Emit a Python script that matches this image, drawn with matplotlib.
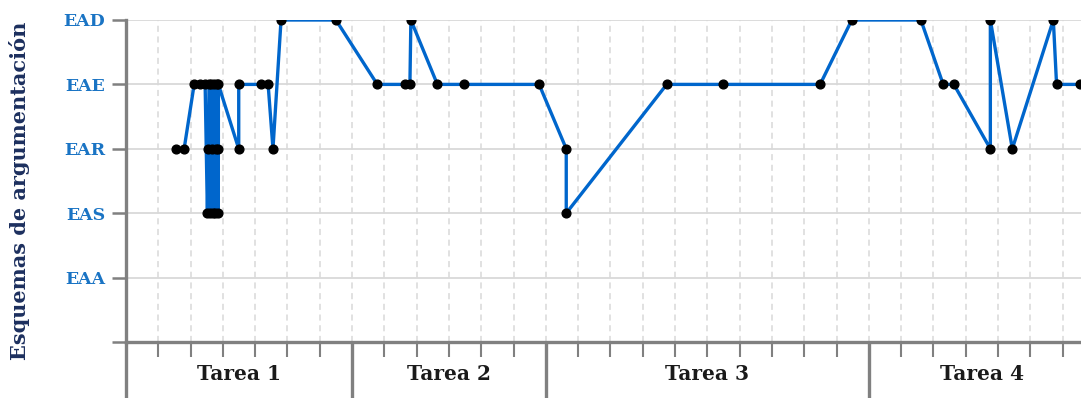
import matplotlib
matplotlib.use('Agg')
import matplotlib.pyplot as plt
import matplotlib.transforms as mtransforms

# esquemas (nivel 1..5)
niveles = ['EAA', 'EAS', 'EAR', 'EAE', 'EAD']

# secuencia de intervenciones: posicion en el eje x y nivel del esquema
pos_x = [1.56, 1.80, 2.11, 2.29, 2.45,
         2.52, 2.55, 2.58, 2.61, 2.64, 2.67, 2.70, 2.73, 2.76, 2.79, 2.82, 2.85, 2.86, 2.86,
         3.49, 3.49, 4.18, 4.40, 4.55, 4.80, 6.50,
         7.78, 8.64, 8.79, 8.82, 9.64, 10.47, 12.79, 13.63, 13.63,
         16.74, 18.47, 21.49, 22.47,
         24.61, 25.30, 25.63, 26.76, 26.76, 27.44, 28.71, 28.81, 29.54]
nivel = [3, 3, 4, 4, 4,
         2, 3, 4, 2, 4, 3, 2, 4, 2, 3, 4, 2, 3, 4,
         3, 4, 4, 4, 3, 5, 5,
         4, 4, 4, 5, 4, 4, 4, 3, 2,
         4, 4, 4, 5,
         5, 4, 4, 3, 5, 3, 5, 4, 4]

tareas = ['Tarea 1', 'Tarea 2', 'Tarea 3', 'Tarea 4']
limites = [0, 7, 13, 23, 30]

gris = '#808080'
fig = plt.figure(figsize=(10.81, 3.98), dpi=100)
ax = fig.add_axes([126 / 1081, 56 / 398, 30 * 32.3 / 1081, 322 / 398])

ax.plot(pos_x, nivel, color='#0066cc', lw=2.4, marker='o', ms=6.3,
        mfc='black', mec='black', zorder=3)

ax.set_xlim(0, 30)
ax.set_ylim(0, 5)

# rejilla
for y in range(1, 6):
    ax.axhline(y, color='#d9d9d9', lw=1.3, zorder=0)
for x in range(1, 30):
    ax.axvline(x, color='#d9d9d9', lw=1.1, ls=(0, (4, 3)), zorder=0)

ax.set_yticks(range(0, 6))
ax.set_yticklabels([''] + niveles, fontfamily='DejaVu Serif', fontweight='bold',
                   fontsize=12.5, color='#1a74c4')
ax.tick_params(axis='y', length=10, width=1.8, color=gris, pad=5)

ax.set_xticks(limites)
ax.set_xticklabels([])
ax.set_xticks([x for x in range(31) if x not in limites], minor=True)
ax.tick_params(axis='x', which='major', length=40.5, width=2.4, color=gris)
ax.tick_params(axis='x', which='minor', length=10.5, width=1.5, color=gris)

for s in ['top', 'right']:
    ax.spines[s].set_visible(False)
for s in ['left', 'bottom']:
    ax.spines[s].set_color(gris)
    ax.spines[s].set_linewidth(2.4)

trans = mtransforms.blended_transform_factory(ax.transData, ax.transAxes)
for i, t in enumerate(tareas):
    ax.text((limites[i] + limites[i + 1]) / 2, -0.1, t, transform=trans,
            ha='center', va='center', fontfamily='DejaVu Serif',
            fontweight='bold', fontsize=14.5, color='#1a1a1a')

fig.text(20 / 1081, 0.521, 'Esquemas de argumentación', rotation=90,
         ha='center', va='center', fontfamily='DejaVu Serif',
         fontweight='bold', fontsize=15, color='#1c2f5e')

fig.savefig('out.png', dpi=100)
